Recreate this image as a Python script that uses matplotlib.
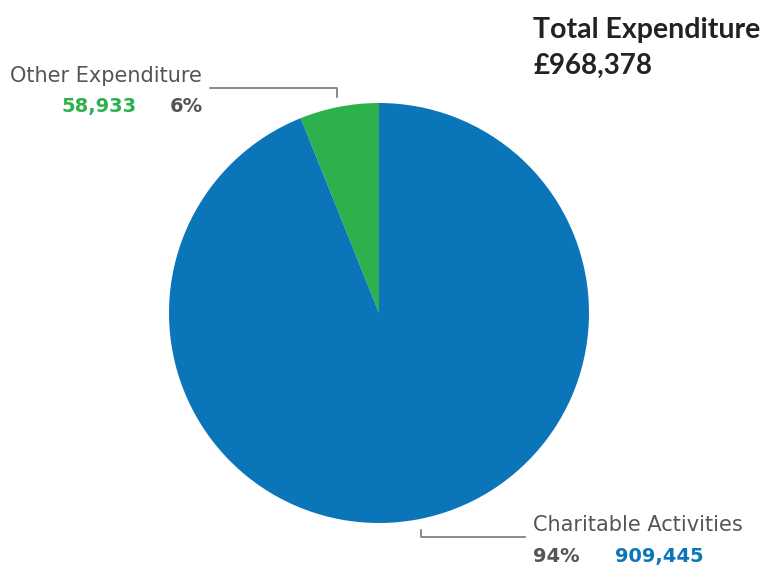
import matplotlib
matplotlib.use("Agg")
import matplotlib.pyplot as plt

categories = ["Other Expenditure", "Charitable Activities"]
values = [58933, 909445]
percent_labels = ["6%", "94%"]
value_labels = ["58,933", "909,445"]
colors = ["#2db14c", "#0a76b9"]
title = "Total Expenditure"
total_label = "£968,378"

W, H = 766, 568
fig = plt.figure(figsize=(W / 100, H / 100), dpi=100)
ax = fig.add_axes([0, 0, 1, 1])

def Y(py):
    return H - py

cx, cy, r = 379, Y(313), 210
ax.pie(values, colors=colors, startangle=90, counterclock=True,
       center=(cx, cy), radius=r, frame=True,
       wedgeprops=dict(linewidth=0))
ax.set_xlim(0, W)
ax.set_ylim(0, H)
ax.axis("off")
ax.set_aspect("equal")

gray = "#555555"
lfont = "DejaVu Sans"

# Other Expenditure label
ax.text(10, Y(82), categories[0], fontsize=15, color=gray, family=lfont, va="baseline", ha="left")
ax.text(137, Y(112), value_labels[0], fontsize=14, color=colors[0], family=lfont,
        weight="bold", va="baseline", ha="right")
ax.text(170, Y(112), percent_labels[0], fontsize=14, color=gray, family=lfont,
        weight="bold", va="baseline", ha="left")
ax.plot([210, 337, 337], [Y(88), Y(88), Y(97)], color="#777777", lw=1.2)

# Charitable Activities label
ax.text(533, Y(531), categories[1], fontsize=15, color=gray, family=lfont, va="baseline", ha="left")
ax.text(533, Y(562), percent_labels[1], fontsize=14, color=gray, family=lfont,
        weight="bold", va="baseline", ha="left")
ax.text(615, Y(562), value_labels[1], fontsize=14, color=colors[1], family=lfont,
        weight="bold", va="baseline", ha="left")
ax.plot([421, 421, 525], [Y(530), Y(537), Y(537)], color="#777777", lw=1.2)

# Title
tfont = ["Lato", "DejaVu Sans"]
ax.text(533, Y(38), title, fontsize=20.5, color="#222222", family=tfont,
        weight="bold", va="baseline", ha="left")
ax.text(533, Y(74), total_label, fontsize=20, color="#222222", family=tfont,
        weight="bold", va="baseline", ha="left")

fig.savefig("out.png", dpi=100, facecolor="white")
